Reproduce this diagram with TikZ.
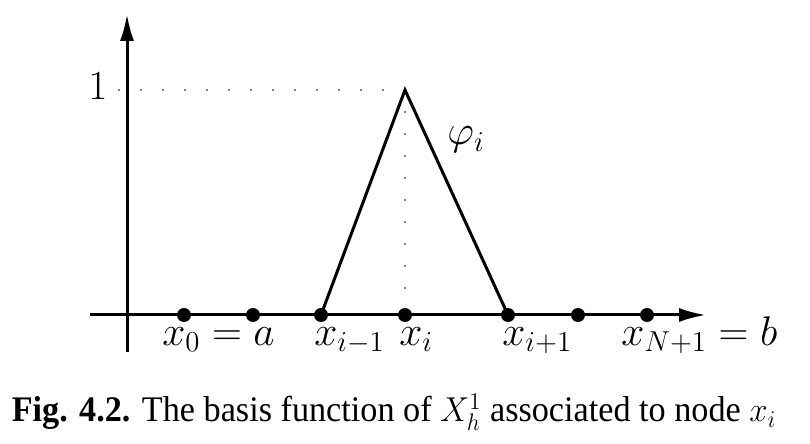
\documentclass[tikz,border=0pt]{standalone}
\usepackage{graphicx}
\usepackage{fontspec}
\setmainfont{Liberation Serif}
\usetikzlibrary{arrows.meta}
\begin{document}
\begin{tikzpicture}[x=0.5pt,y=-0.5pt,
  axis/.style={line width=1.5pt,-{Latex[length=13.5pt,width=7pt]}},
  graphline/.style={line width=1.5pt,line join=miter},
  guide/.style={line width=0.9pt,line cap=round,dash pattern=on 0pt off 11pt},
  meshpt/.style={circle,fill=black,inner sep=0pt,minimum size=7pt},
  lab/.style={inner sep=0pt,font=\fontsize{19.5}{23}\selectfont},
  capt/.style={inner sep=0pt,font=\fontsize{18}{22}\selectfont}]
\useasboundingbox (0,0) rectangle (810,444);
% axes
\coordinate (xs) at (90,315);
\coordinate (xe) at (706,315);
\coordinate (ys) at (127,352);
\coordinate (ye) at (127,14);
\draw[axis] (xs) -- (xe);
\draw[axis] (ys) -- (ye);
% guides
\coordinate (peak) at (405,90);
\coordinate (onel) at (117,90);
\coordinate (foot) at (405,312);
\draw[guide] (peak) -- (onel);
\draw[guide] (peak) -- (foot);
% mesh points
\node[meshpt] (p0) at (184,315) {};
\node[meshpt] (pa) at (253,315) {};
\node[meshpt] (pim) at (321,315) {};
\node[meshpt] (pi) at (405,315) {};
\node[meshpt] (pip) at (508,315) {};
\node[meshpt] (pn) at (578,315) {};
\node[meshpt] (pN) at (647,315) {};
% hat function
\draw[graphline] (pim.center) -- (peak) -- (pip.center);
% labels
\node[lab,anchor=base] (one) at (98,100) {$1$};
\node[lab,anchor=base west] (phi) at (447,145) {$\varphi_i$};
\node[lab,anchor=base west] (l0) at (162,345) {$x_0=a$};
\node[lab,anchor=base west] (lim) at (314,345) {$x_{i-1}$};
\node[lab,anchor=base west] (li) at (399,345) {$x_i$};
\node[lab,anchor=base west] (lip) at (502,345) {$x_{i+1}$};
\node[lab,anchor=base west] (lN) at (621,345) {$x_{N+1}=b$};
% caption
\node[capt,anchor=base] (cap) at (394,422) {\scalebox{0.95}[1]{\textbf{Fig. 4.2.} The basis function of $X_h^1$ associated to node $x_i$}};
\end{tikzpicture}
\end{document}
